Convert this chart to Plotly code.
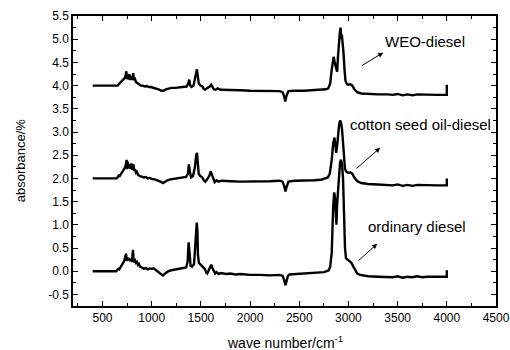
import plotly.graph_objects as go

# ---- data ----
ord_wn = [400, 640, 650, 660, 670, 680, 690, 700, 710, 720, 730, 740, 745, 750, 760, 770, 780, 790, 800, 810, 815, 820, 830, 840, 850, 860, 870, 880, 900, 920, 940, 960, 980, 1000, 1020, 1040, 1060, 1080, 1100, 1115, 1130, 1150, 1170, 1200, 1230, 1260, 1290, 1320, 1350, 1365, 1375, 1385, 1395, 1410, 1430, 1440, 1450, 1458, 1465, 1470, 1480, 1500, 1520, 1540, 1555, 1565, 1580, 1595, 1605, 1615, 1630, 1645, 1660, 1680, 1700, 1730, 1760, 1800, 1850, 1900, 1950, 2000, 2100, 2200, 2300, 2330, 2345, 2360, 2370, 2385, 2400, 2500, 2600, 2700, 2750, 2780, 2800, 2815, 2830, 2845, 2855, 2862, 2870, 2878, 2885, 2895, 2905, 2915, 2925, 2935, 2945, 2955, 2965, 2975, 2990, 3010, 3030, 3050, 3070, 3090, 3120, 3160, 3200, 3300, 3400, 3450, 3500, 3550, 3600, 3650, 3700, 3750, 3800, 3900, 4000, 4000]
ord_abs = [0.00, 0.00, 0.03, 0.05, 0.04, 0.08, 0.10, 0.14, 0.18, 0.22, 0.30, 0.38, 0.22, 0.30, 0.24, 0.28, 0.22, 0.26, 0.20, 0.46, 0.25, 0.22, 0.24, 0.18, 0.20, 0.14, 0.16, 0.10, 0.08, 0.05, 0.07, 0.04, 0.06, 0.05, 0.06, 0.02, 0.00, -0.04, -0.07, -0.09, -0.06, -0.03, 0.00, 0.02, 0.03, 0.04, 0.05, 0.06, 0.08, 0.20, 0.62, 0.40, 0.12, 0.10, 0.15, 0.45, 0.95, 1.05, 0.85, 0.35, 0.18, 0.14, 0.10, 0.05, -0.03, -0.05, 0.02, 0.10, 0.14, 0.08, 0.00, -0.05, -0.02, -0.06, -0.04, -0.05, -0.06, -0.05, -0.07, -0.06, -0.07, -0.08, -0.08, -0.09, -0.08, -0.10, -0.18, -0.30, -0.22, -0.10, -0.07, -0.06, -0.05, -0.03, -0.02, 0.00, 0.02, 0.10, 0.40, 1.40, 1.70, 1.60, 1.20, 1.00, 1.45, 1.70, 2.10, 2.35, 2.40, 2.30, 2.00, 1.20, 0.50, 0.28, 0.25, 0.22, 0.18, 0.10, 0.02, -0.05, -0.08, -0.10, -0.11, -0.12, -0.12, -0.13, -0.11, -0.14, -0.12, -0.13, -0.11, -0.13, -0.12, -0.12, -0.12, 0.02]

cs_wn = [400, 645, 655, 665, 675, 685, 695, 705, 715, 725, 735, 745, 750, 758, 765, 775, 785, 795, 805, 815, 822, 830, 840, 850, 860, 880, 900, 920, 940, 960, 980, 1000, 1030, 1060, 1090, 1115, 1135, 1160, 1190, 1230, 1270, 1310, 1350, 1368, 1378, 1388, 1400, 1420, 1440, 1452, 1460, 1468, 1478, 1495, 1515, 1530, 1545, 1560, 1585, 1600, 1612, 1625, 1640, 1660, 1680, 1710, 1750, 1800, 1900, 2000, 2100, 2200, 2300, 2330, 2345, 2360, 2372, 2390, 2450, 2550, 2650, 2720, 2750, 2790, 2810, 2830, 2845, 2858, 2866, 2875, 2885, 2895, 2905, 2915, 2925, 2935, 2945, 2955, 2965, 2980, 3000, 3020, 3040, 3060, 3090, 3130, 3200, 3300, 3400, 3450, 3500, 3550, 3600, 3650, 3700, 3800, 3900, 4000, 4000]
cs_abs = [2.00, 2.00, 2.03, 2.06, 2.05, 2.10, 2.12, 2.15, 2.18, 2.22, 2.28, 2.40, 2.20, 2.36, 2.22, 2.30, 2.20, 2.32, 2.18, 2.30, 2.16, 2.20, 2.12, 2.14, 2.08, 2.05, 2.04, 2.02, 2.03, 2.00, 2.01, 1.99, 1.98, 1.96, 1.93, 1.90, 1.93, 1.96, 1.98, 1.99, 2.00, 2.01, 2.03, 2.10, 2.30, 2.15, 2.02, 2.05, 2.25, 2.50, 2.55, 2.35, 2.10, 2.05, 2.02, 1.96, 1.93, 1.97, 2.05, 2.15, 2.08, 1.98, 1.92, 1.96, 1.93, 1.95, 1.94, 1.94, 1.93, 1.93, 1.94, 1.94, 1.95, 1.93, 1.85, 1.72, 1.82, 1.93, 1.95, 1.95, 1.96, 1.97, 1.99, 2.02, 2.10, 2.40, 2.75, 2.88, 2.75, 2.55, 2.70, 2.95, 3.15, 3.25, 3.20, 3.05, 2.80, 2.45, 2.20, 2.14, 2.12, 2.13, 2.10, 2.02, 1.94, 1.90, 1.88, 1.87, 1.86, 1.85, 1.87, 1.84, 1.86, 1.84, 1.86, 1.85, 1.85, 1.85, 2.00]

weo_wn = [400, 655, 665, 675, 685, 695, 705, 715, 725, 735, 742, 748, 756, 765, 775, 785, 795, 805, 812, 820, 830, 840, 855, 870, 890, 910, 930, 950, 970, 990, 1010, 1040, 1070, 1100, 1120, 1145, 1170, 1200, 1240, 1280, 1320, 1355, 1372, 1382, 1392, 1405, 1425, 1440, 1452, 1460, 1468, 1478, 1495, 1515, 1530, 1545, 1565, 1590, 1605, 1618, 1632, 1650, 1670, 1700, 1750, 1800, 1900, 2000, 2100, 2200, 2300, 2330, 2345, 2358, 2370, 2390, 2450, 2550, 2650, 2720, 2770, 2795, 2815, 2830, 2842, 2850, 2860, 2872, 2885, 2893, 2903, 2913, 2920, 2927, 2933, 2940, 2950, 2960, 2970, 2985, 3000, 3020, 3040, 3060, 3090, 3130, 3200, 3300, 3400, 3450, 3500, 3550, 3600, 3650, 3700, 3800, 3900, 4000, 4000]
weo_abs = [4.00, 4.00, 4.03, 4.05, 4.06, 4.08, 4.10, 4.12, 4.16, 4.22, 4.31, 4.14, 4.25, 4.13, 4.24, 4.12, 4.20, 4.12, 4.27, 4.12, 4.14, 4.08, 4.06, 4.03, 4.00, 4.00, 3.98, 3.99, 3.97, 3.97, 3.96, 3.94, 3.92, 3.89, 3.89, 3.92, 3.94, 3.95, 3.95, 3.96, 3.96, 3.98, 4.05, 4.13, 4.00, 3.97, 4.00, 4.15, 4.30, 4.35, 4.22, 4.05, 4.00, 3.98, 3.93, 3.91, 3.95, 3.98, 4.02, 3.97, 3.92, 3.91, 3.94, 3.91, 3.91, 3.90, 3.90, 3.89, 3.89, 3.89, 3.88, 3.86, 3.78, 3.66, 3.78, 3.88, 3.89, 3.89, 3.90, 3.91, 3.92, 3.94, 4.05, 4.35, 4.55, 4.62, 4.50, 4.40, 4.30, 4.60, 4.95, 5.15, 5.25, 5.00, 5.10, 4.95, 4.70, 4.35, 4.10, 4.03, 4.02, 4.03, 4.00, 3.92, 3.86, 3.83, 3.82, 3.81, 3.81, 3.80, 3.82, 3.79, 3.81, 3.79, 3.81, 3.80, 3.80, 3.80, 4.02]

series_names = ["ordinary diesel", "cotton seed oil-diesel", "WEO-diesel"]
x_ticks = [500, 1000, 1500, 2000, 2500, 3000, 3500, 4000, 4500]
y_ticks = [-0.5, 0.0, 0.5, 1.0, 1.5, 2.0, 2.5, 3.0, 3.5, 4.0, 4.5, 5.0, 5.5]
x_title = "wave number/cm<sup>-1</sup>"
y_title = "absorbance/%"

FONT = "Arial, 'Liberation Sans', sans-serif"

fig = go.Figure()
for name, xs, ys in [(series_names[0], ord_wn, ord_abs),
                     (series_names[1], cs_wn, cs_abs),
                     (series_names[2], weo_wn, weo_abs)]:
    fig.add_trace(go.Scatter(x=xs, y=ys, mode="lines", name=name,
                             line=dict(color="black", width=2.4)))

# labels with arrows: (text, text_x, text_y, arrow head x, head y, tail offset px)
labels = [
    (series_names[2], 3780, 4.95, 3353, 4.71, -23, 14),
    (series_names[1], 3730, 3.16, 3322, 2.66, -25, 22),
    (series_names[0], 3700, 0.96, 3292, 0.59, -20, 18),
]
for txt, tx, ty, hx, hy, axo, ayo in labels:
    fig.add_annotation(x=tx, y=ty, text=txt, showarrow=False,
                       font=dict(family=FONT, size=15, color="black"))
    fig.add_annotation(x=hx, y=hy, ax=axo, ay=ayo, text="", showarrow=True,
                       arrowhead=2, arrowsize=1, arrowwidth=1, arrowcolor="black")

# axis titles placed as paper annotations so the plot area stays fixed
fig.add_annotation(xref="paper", yref="paper", x=0.5, y=-0.124, text=x_title,
                   showarrow=False, xanchor="center", yanchor="middle",
                   font=dict(family=FONT, size=14, color="black"))
fig.add_annotation(xref="paper", yref="paper", x=-0.125, y=0.503, text=y_title,
                   textangle=-90, showarrow=False, xanchor="center", yanchor="middle",
                   font=dict(family=FONT, size=13, color="black"))

axis_common = dict(showline=True, linecolor="black", linewidth=1.5, mirror="allticks",
                   ticks="inside", ticklen=5, tickwidth=1, tickcolor="black",
                   showgrid=False, zeroline=False, automargin=False,
                   tickfont=dict(family=FONT, size=12, color="black"))

fig.update_xaxes(range=[200, 4500], tickvals=x_ticks, ticktext=[str(v) for v in x_ticks],
                 minor=dict(dtick=250, tick0=0, ticks="inside", ticklen=3, tickcolor="black"),
                 **axis_common)
fig.update_yaxes(range=[-0.75, 5.5], tickvals=y_ticks, ticktext=[f"{v:.1f}" for v in y_ticks],
                 minor=dict(dtick=0.25, tick0=0, ticks="inside", ticklen=3, tickcolor="black"),
                 **axis_common)

fig.update_layout(width=510, height=350, showlegend=False,
                  margin=dict(l=73, r=14, t=16, b=44),
                  plot_bgcolor="white", paper_bgcolor="white")

fig.write_html("out.html")
